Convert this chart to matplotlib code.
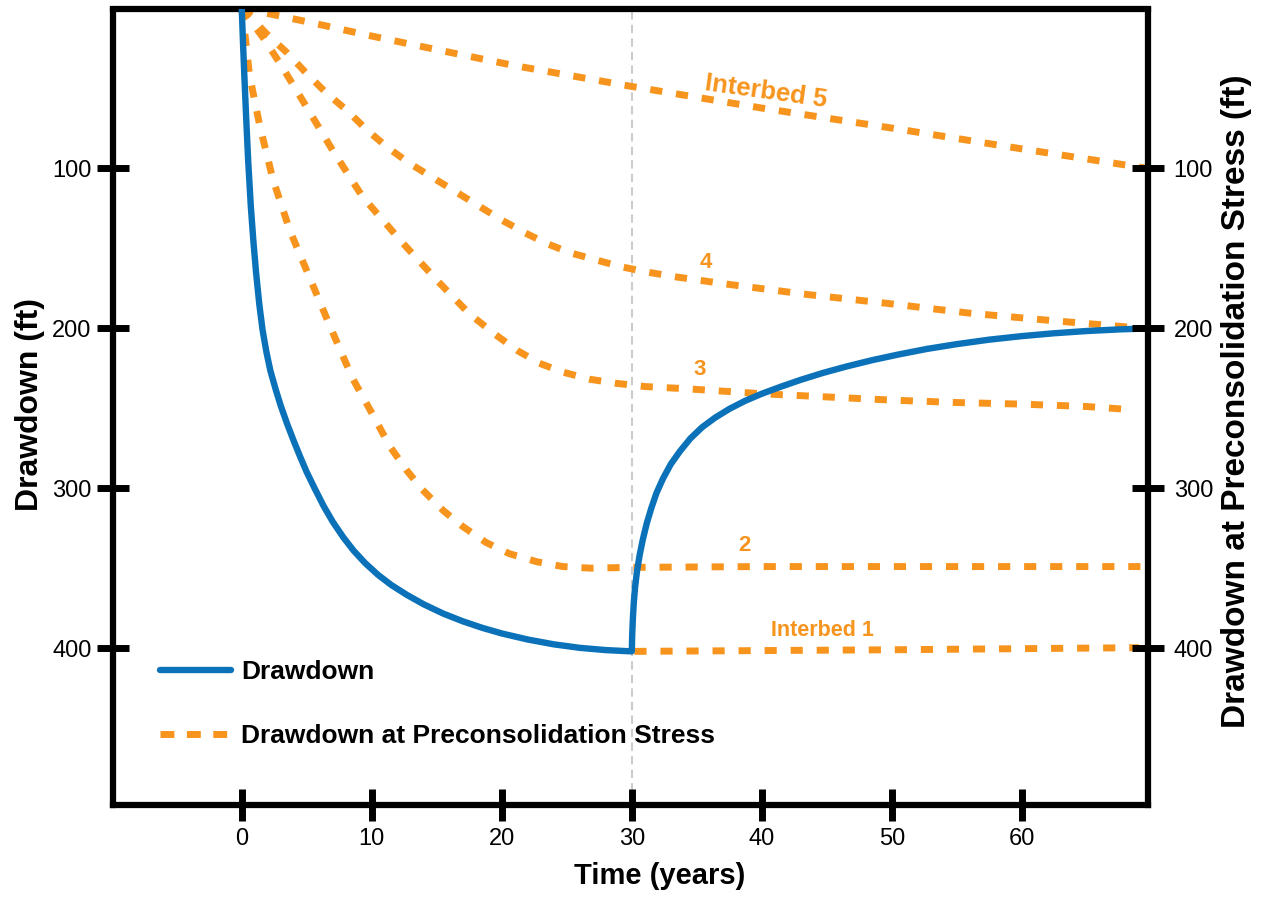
import matplotlib
matplotlib.use("Agg")
import matplotlib.pyplot as plt
from matplotlib.lines import Line2D

plt.rcParams['font.family'] = ['Liberation Sans', 'DejaVu Sans']

# ---------------- data ----------------
drawdown_time = [0, 0.1, 0.2, 0.35, 0.5, 0.7, 0.9, 1.1, 1.35, 1.6, 1.9, 2.2, 2.6, 3.0, 3.5, 4.0, 4.5, 5.0,
                 5.6, 6.3, 7.0, 7.8, 8.6, 9.5, 10.5, 11.5, 12.7, 14, 15.5, 17, 18.5, 20, 22, 24, 26, 28, 30,
                 30.03, 30.08, 30.15, 30.25, 30.4, 30.6, 30.85, 31.15, 31.5, 31.9, 32.4, 33, 33.7, 34.5,
                 35.4, 36.4, 37.5, 38.7, 40, 41.5, 43, 44.7, 46.5, 48.5, 50.5, 52.7, 55, 57.5, 60, 62.5,
                 65, 67.5, 69.7]
drawdown_ft = [0, 22, 42, 70, 96, 124, 146, 165, 185, 201, 215, 226.5, 238, 248.5, 260, 270.5, 280.5, 290,
               300, 311.2, 321, 330.6, 339, 346.9, 354.3, 360.5, 366.7, 372.6, 378.4, 383.2, 387.3, 390.8,
               394.6, 397.6, 399.8, 401.2, 402,
               392, 382, 372, 362, 352, 342, 332, 322, 312.5, 303, 294, 285, 277, 269,
               262, 256, 250.5, 245.5, 241, 236.5, 232.3, 228, 224, 220, 216.5, 213, 210, 207.2, 205, 203.2,
               201.8, 200.8, 200.2]

ib1_time = [30.2, 40, 50, 60, 69]
ib1_ft = [402, 401.5, 401, 400.3, 399.7]

ib2_time = [0, 0.3, 0.6, 1.4, 2.4, 3.7, 5.2, 6.8, 8.5, 10, 11.4, 12.7, 13.9, 15.5, 17, 18.8, 20.6, 22.7,
            24.7, 26.8, 30, 40, 50, 60, 69.7]
ib2_ft = [0, 20, 42, 74, 107, 139, 168, 199, 231, 253, 274, 289, 301, 314, 324, 334, 341, 346,
          349, 350, 349.5, 349, 349, 349, 349]

ib3_time = [0, 0.5, 1.6, 2.9, 5, 7, 9.3, 12.4, 15, 17.5, 19.5, 21.2, 22.9, 24.7, 26.8, 28.8, 31, 34.4,
            40, 45, 50, 55, 60, 65, 68.5]
ib3_ft = [0, 6, 18, 34, 62, 89, 118, 147, 170, 191, 204, 214, 222, 227.5, 232, 234.5, 236.5, 238,
          241, 243, 245, 246.5, 247.5, 249, 251]

ib4_time = [0, 0.5, 1.9, 3.5, 5, 6.5, 8.1, 9.6, 11.2, 12.9, 14.7, 16.5, 18.3, 20, 21.8, 23.4, 25.3, 27.3,
            29.2, 31.2, 33.4, 37.3, 43.5, 49.6, 55.8, 61.9, 68.4]
ib4_ft = [0, 4, 16, 28, 41, 53, 64, 76, 87, 97, 106, 115, 124, 132.5, 140.5, 147, 153, 157.5,
          161.7, 165, 168, 172.5, 179, 184.5, 190.5, 195, 199.5]

ib5_time = [0, 5, 10, 15, 21, 30, 40, 50, 60, 69.5]
ib5_ft = [0, 8.5, 17.5, 26, 36, 49, 62.5, 75, 88, 100]

x_ticks = [0, 10, 20, 30, 40, 50, 60]
y_ticks = [100, 200, 300, 400]
pumping_stop = 30

labels = ["Interbed 1", "2", "3", "4", "Interbed 5"]
label_x = [44.7, 38.7, 35.2, 35.7, 40.3]
label_y = [389, 336, 226, 159, 52]
label_rot = [0, 0, 0, 0, -8]
label_size = [15.5, 16, 16, 16, 18.5]

# ---------------- style ----------------
BLUE = '#0b72b9'
ORANGE = '#f7941d'
LW_BLUE = 4.6
LW_OR = 5.0
DASH = (0, (1.75, 2.0))

fig = plt.figure(figsize=(12.62, 8.97), dpi=100)
ax = fig.add_axes([113 / 1262, 1 - 805 / 897, (1148 - 113) / 1262, (805 - 9.5) / 897])

ax.axvline(pumping_stop, color='#cccccc', lw=1.5, linestyle=(0, (4, 2.5)), zorder=1)

for t, v in [(ib1_time, ib1_ft), (ib2_time, ib2_ft), (ib3_time, ib3_ft),
             (ib4_time, ib4_ft), (ib5_time, ib5_ft)]:
    ax.plot(t, v, color=ORANGE, lw=LW_OR, linestyle=DASH, zorder=2)

ax.plot(drawdown_time, drawdown_ft, color=BLUE, lw=LW_BLUE, zorder=3)

for txt, lx, ly, r, s in zip(labels, label_x, label_y, label_rot, label_size):
    ax.text(lx, ly, txt, color=ORANGE, fontsize=s, fontweight='bold',
            ha='center', va='center', rotation=r, rotation_mode='anchor')

ax.set_xlim(-9.9, 69.7)
ax.set_ylim(498, 0.9)
ax.set_xticks(x_ticks)
ax.set_yticks(y_ticks)

for sp in ax.spines.values():
    sp.set_linewidth(4.5)
    sp.set_color('black')

ax.tick_params(axis='both', direction='inout', length=23, width=5, labelsize=17, colors='black')
ax.tick_params(axis='y', pad=4)
ax.tick_params(axis='x', pad=5)

ax2 = ax.twinx()
ax2.set_ylim(ax.get_ylim())
ax2.set_yticks(y_ticks)
ax2.tick_params(axis='y', direction='inout', length=23, width=5, labelsize=17, pad=7)
for sp in ax2.spines.values():
    sp.set_visible(False)

ax.set_xlabel('Time (years)', fontsize=21, fontweight='bold', va='center')
ax.xaxis.set_label_coords((660 - 113) / 1035, (805 - 876) / 795.5)
ax.set_ylabel('Drawdown (ft)', fontsize=23, fontweight='bold', va='center')
ax.yaxis.set_label_coords((30 - 113) / 1035, (805 - 404) / 795.5)
ax2.set_ylabel('Drawdown at Preconsolidation Stress (ft)', fontsize=24, fontweight='bold', va='center')
ax2.yaxis.set_label_coords((1236 - 113) / 1035, (805 - 401) / 795.5)

handles = [Line2D([], [], color=BLUE, lw=LW_BLUE, solid_capstyle='round'),
           Line2D([], [], color=ORANGE, lw=LW_OR, linestyle=(0, (2.0, 1.8)))]
ax.legend(handles, ['Drawdown', 'Drawdown at Preconsolidation Stress'],
          loc='center left', bbox_to_anchor=((160 - 113) / 1035, (805 - 704) / 795.5),
          frameon=False, borderpad=0, borderaxespad=0, handlelength=2.7,
          handletextpad=0.38, labelspacing=1.5,
          prop={'weight': 'bold', 'size': 19})

fig.savefig('out.png', dpi=100)
